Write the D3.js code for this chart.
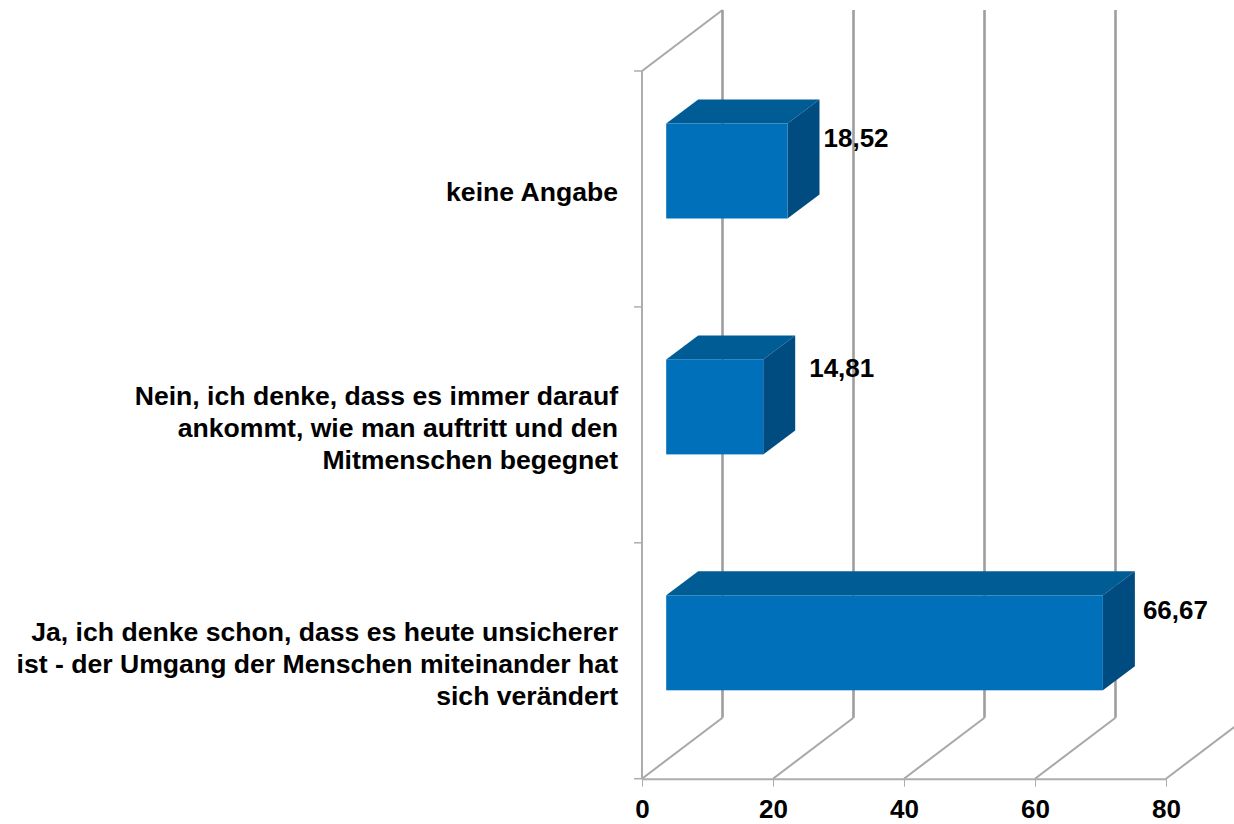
<!DOCTYPE html>
<html>
<head>
<meta charset="utf-8">
<script src="https://cdnjs.cloudflare.com/ajax/libs/d3/7.8.5/d3.min.js"></script>
<style>
html,body{margin:0;padding:0;background:#fff}
svg{display:block}
text{font-family:"Liberation Sans",Arial,sans-serif;font-weight:bold;fill:#000}
</style>
</head>
<body>
<svg id="c" width="1234" height="824"></svg>
<script>
const categories = ["keine Angabe", "Nein, ich denke, dass es immer darauf ankommt, wie man auftritt und den Mitmenschen begegnet", "Ja, ich denke schon, dass es heute unsicherer ist - der Umgang der Menschen miteinander hat sich verändert"];
const categoryLines = [["keine Angabe"], ["Nein, ich denke, dass es immer darauf", "ankommt, wie man auftritt und den", "Mitmenschen begegnet"], ["Ja, ich denke schon, dass es heute unsicherer", "ist - der Umgang der Menschen miteinander hat", "sich verändert"]];
const values = [18.52, 14.81, 66.67];
const valueLabels = ["18,52", "14,81", "66,67"];
const xTicks = [0, 20, 40, 60, 80];

const svg = d3.select("#c");
const FRONT = {l:642, r:1166, t:71, b:778.7};
const WALL = {dx:80.5, dy:-61};
const BAR = {offX:24.2, depthX:32, depthY:24, top:52.5, height:95};
const GRID = "#9e9e9e", DIAG = "#a8a8a8", AXIS = "#adadad";
const labelNudge = [[4, -42], [14, -48], [8, -42]];

const x = d3.scaleLinear().domain([0, 80]).range([FRONT.l, FRONT.r]);
const y = d3.scaleBand().domain(categories).range([FRONT.t, FRONT.b]);

// walls / gridlines
const grid = svg.append("g").attr("fill", "none");
grid.selectAll("path.d").data(xTicks).join("path").attr("class", "d")
  .attr("d", t => {
    const p = d3.path();
    p.moveTo(x(t), FRONT.b);
    p.lineTo(x(t) + WALL.dx, FRONT.b + WALL.dy);
    if (t === 0) { p.moveTo(x(t), FRONT.t); p.lineTo(x(t) + WALL.dx, FRONT.t + WALL.dy); }
    return p.toString();
  })
  .attr("stroke", DIAG).attr("stroke-width", 2);
grid.selectAll("line.v").data(xTicks).join("line").attr("class", "v")
  .attr("x1", t => x(t) + WALL.dx).attr("x2", t => x(t) + WALL.dx)
  .attr("y1", FRONT.b + WALL.dy).attr("y2", FRONT.t + WALL.dy)
  .attr("stroke", GRID).attr("stroke-width", 2.6);

// category axis
const yLine = svg.append("g").attr("stroke", AXIS);
yLine.append("line").attr("x1", FRONT.l).attr("x2", FRONT.l).attr("y1", FRONT.t).attr("y2", FRONT.b).attr("stroke-width", 2);
const edges = categories.map(c => y(c)).concat([FRONT.b]);
yLine.selectAll("line.t").data(edges).join("line").attr("class", "t")
  .attr("x1", FRONT.l - 8).attr("x2", FRONT.l).attr("y1", d => d).attr("y2", d => d).attr("stroke-width", 1.5);

// value axis
const xAxis = d3.axisBottom(x).tickValues(xTicks).tickSize(8).tickSizeOuter(0).tickPadding(13).tickFormat(d3.format("d"));
const gx = svg.append("g").attr("transform", `translate(0,${FRONT.b})`).call(xAxis);
gx.select(".domain").attr("stroke", AXIS).attr("stroke-width", 2);
gx.selectAll("line").attr("stroke", AXIS).attr("stroke-width", 1);
gx.selectAll("text").style("font-size", "26px").attr("fill", "#000");

// bars
const bars = svg.append("g").selectAll("g").data(categories).join("g");
const geom = (c, i) => {
  const x0 = x(0) + BAR.offX, x1 = x(values[i]) + BAR.offX;
  const y0 = y(c) + BAR.top, y1 = y0 + BAR.height;
  return {x0, x1, y0, y1};
};
bars.append("path").attr("fill", "#005C94").attr("d", (c, i) => {
  const g = geom(c, i);
  return `M${g.x0},${g.y0}L${g.x0 + BAR.depthX},${g.y0 - BAR.depthY}L${g.x1 + BAR.depthX},${g.y0 - BAR.depthY}L${g.x1},${g.y0}Z`;
});
bars.append("path").attr("fill", "#004C80").attr("d", (c, i) => {
  const g = geom(c, i);
  return `M${g.x1},${g.y0}L${g.x1 + BAR.depthX},${g.y0 - BAR.depthY}L${g.x1 + BAR.depthX},${g.y1 - BAR.depthY}L${g.x1},${g.y1}Z`;
});
bars.append("rect").attr("fill", "#0070BA")
  .attr("x", (c, i) => geom(c, i).x0).attr("y", (c, i) => geom(c, i).y0)
  .attr("width", (c, i) => geom(c, i).x1 - geom(c, i).x0).attr("height", BAR.height);

// value labels
bars.append("text").style("font-size", "26px")
  .attr("x", (c, i) => geom(c, i).x1 + BAR.depthX + labelNudge[i][0])
  .attr("y", (c, i) => y(c) + y.bandwidth() / 2 + labelNudge[i][1])
  .text((c, i) => valueLabels[i]);

// category labels
const lab = svg.append("g").selectAll("text").data(categories).join("text")
  .attr("text-anchor", "end").style("font-size", "26.6px")
  .attr("y", c => y(c) + y.bandwidth() / 2);
lab.selectAll("tspan").data((c, i) => categoryLines[i].map((s, k, a) => ({s, k, n:a.length}))).join("tspan")
  .attr("x", 618)
  .attr("y", function(d) { const c = d3.select(this.parentNode).datum(); return y(c) + y.bandwidth() / 2 + 12 + (d.k - (d.n - 1) / 2) * 32; })
  .text(d => d.s);
</script>
</body>
</html>
